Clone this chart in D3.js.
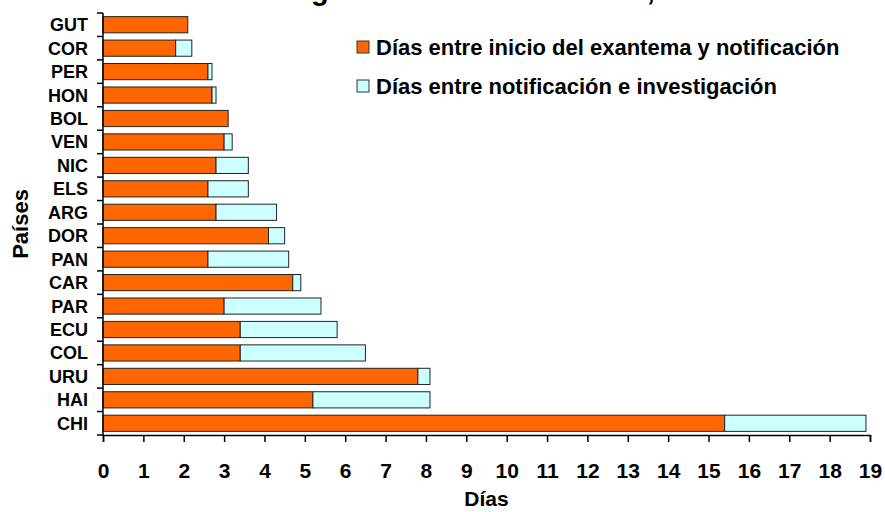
<!DOCTYPE html>
<html>
<head>
<meta charset="utf-8">
<script src="https://cdn.jsdelivr.net/npm/d3@7"></script>
<style>
  body { margin: 0; background: #fff; }
  text { font-family: "Liberation Sans", Arial, sans-serif; font-weight: bold; fill: #000; }
</style>
</head>
<body>
<svg id="chart" width="885" height="512"></svg>
<script>
// data (days)
const paises = ["GUT", "COR", "PER", "HON", "BOL", "VEN", "NIC", "ELS", "ARG",
                "DOR", "PAN", "CAR", "PAR", "ECU", "COL", "URU", "HAI", "CHI"];
const exantemaNotif = [2.1, 1.8, 2.6, 2.7, 3.1, 3.0, 2.8, 2.6, 2.8,
                       4.1, 2.6, 4.7, 3.0, 3.4, 3.4, 7.8, 5.2, 15.4];
const notifInvest = [0, 0.4, 0.1, 0.1, 0, 0.2, 0.8, 1.0, 1.5,
                     0.4, 2.0, 0.2, 2.4, 2.4, 3.1, 0.3, 2.9, 3.5];
const xTicks = d3.range(0, 20);
const serieNames = ["Días entre inicio del exantema y notificación",
                    "Días entre notificación e investigación"];
const colors = ["#FF6600", "#CCFFFF"];

const svg = d3.select("#chart");
const width = 885, height = 512;
const margin = { left: 103, right: 15, top: 13, bottom: 77 };

const x = d3.scaleLinear().domain([0, 19]).range([margin.left, width - margin.right]);
const y = d3.scaleBand().domain(paises).range([margin.top, height - margin.bottom])
  .paddingInner(0.31).paddingOuter(0.155);

// stacked rows
const rows = paises.map((p, i) => ({ pais: p, a: exantemaNotif[i], b: notifInvest[i] }));
const stack = d3.stack().keys(["a", "b"])(rows);

svg.append("g").selectAll("g").data(stack).enter().append("g")
  .attr("fill", (d, i) => colors[i])
  .selectAll("rect").data(d => d.filter(s => s[1] - s[0] > 0)).enter().append("rect")
  .attr("x", d => x(d[0]))
  .attr("y", d => y(d.data.pais))
  .attr("width", d => x(d[1]) - x(d[0]))
  .attr("height", y.bandwidth())
  .attr("stroke", "#222").attr("stroke-width", 1);

// x axis
const xAxis = svg.append("g")
  .attr("transform", `translate(0,${height - margin.bottom})`)
  .call(d3.axisBottom(x).tickValues(xTicks).tickFormat(d3.format("d")).tickSizeOuter(0).tickSize(7).tickPadding(21));
xAxis.selectAll("text").style("font-size", "21px");
xAxis.selectAll("line, path").attr("stroke", "#000").attr("stroke-width", 1.5);

// y axis: ticks between categories
const yAxis = svg.append("g").attr("transform", `translate(${margin.left},0)`);
yAxis.append("line")
  .attr("x1", 0).attr("x2", 0)
  .attr("y1", margin.top).attr("y2", height - margin.bottom)
  .attr("stroke", "#000").attr("stroke-width", 1.5);
const bounds = d3.range(paises.length + 1).map(i => margin.top + i * y.step());
yAxis.selectAll(".tk").data(bounds).enter().append("line")
  .attr("x1", -6).attr("x2", 0)
  .attr("y1", d => d).attr("y2", d => d)
  .attr("stroke", "#000").attr("stroke-width", 1.5);
yAxis.selectAll(".lbl").data(paises).enter().append("text")
  .attr("x", -15)
  .attr("y", d => y(d) + y.bandwidth() / 2)
  .attr("dy", "0.36em")
  .attr("text-anchor", "end")
  .style("font-size", "18px")
  .text(d => d);

// axis titles
svg.append("text").attr("x", x(9.5)).attr("y", 506)
  .attr("text-anchor", "middle").style("font-size", "21px").text("Días");
svg.append("text").attr("transform", "translate(28,224) rotate(-90)")
  .attr("text-anchor", "middle").style("font-size", "22px").text("Países");

// title, cut off by the top edge: only the descenders show
const title = svg.append("g").style("font-size", "29px");
title.append("text").attr("x", 311).attr("y", 0).attr("text-anchor", "end").text("Indicadores de vi");
title.append("text").attr("x", 311).attr("y", 0).text("gilancia en las Américas, 2003");

// legend
const legend = svg.append("g").selectAll("g").data(serieNames).enter().append("g")
  .attr("transform", (d, i) => `translate(357,${41 + i * 39})`);
legend.append("rect").attr("width", 12).attr("height", 12)
  .attr("fill", (d, i) => colors[i]).attr("stroke", "#333").attr("stroke-width", 1);
legend.append("text").attr("x", 19).attr("y", 6).attr("dy", "0.36em")
  .style("font-size", "22px").text(d => d);
</script>
</body>
</html>
